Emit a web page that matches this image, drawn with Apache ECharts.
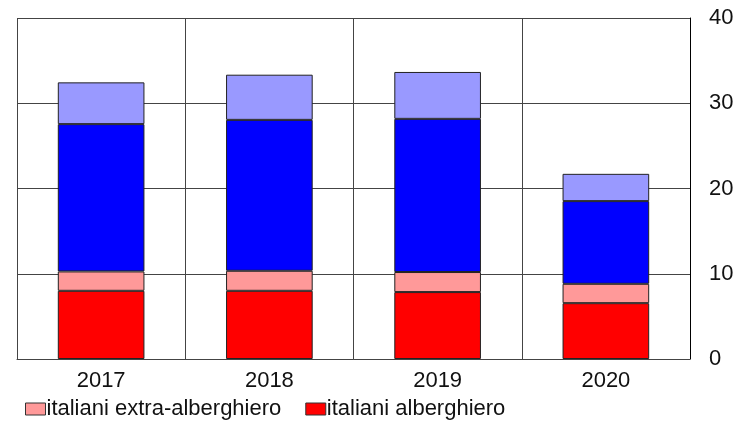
<!DOCTYPE html>
<html>
<head>
<meta charset="utf-8">
<script src="https://cdn.jsdelivr.net/npm/echarts@6/dist/echarts.min.js"></script>
<style>
  html, body { margin: 0; padding: 0; background: #fff; }
  #chart { width: 741px; height: 429px; }
</style>
</head>
<body>
<div id="chart"></div>
<script>
// data
var years = ['2017', '2018', '2019', '2020'];
var italianiAlb = [8.0, 8.0, 7.85, 6.55];
var italianiExtra = [2.27, 2.35, 2.35, 2.27];
var stranieriAlb = [17.28, 17.7, 17.97, 9.7];
var stranieriExtra = [4.9, 5.3, 5.5, 3.2];
var yTicks = [0, 10, 20, 30, 40];

var FONT = 'Liberation Sans, Arial, sans-serif';
var chart = echarts.init(document.getElementById('chart'));

function barSeries(name, data, color) {
    return {
        name: name,
        type: 'bar',
        stack: 'tot',
        data: data,
        barWidth: '51.5%',
        itemStyle: {
            color: color,
            borderColor: '#222',
            borderWidth: 1
        }
    };
}

chart.setOption({
    animation: false,
    grid: {left: 17, right: 51, top: 18, bottom: 70, containLabel: false},
    legend: {
        data: ['italiani extra-alberghiero', 'italiani alberghiero'],
        left: 20,
        top: 393,
        itemWidth: 20,
        itemHeight: 12,
        itemGap: 24,
        icon: 'rect',
        itemStyle: {borderColor: '#333', borderWidth: 1},
        textStyle: {fontFamily: FONT, fontSize: 22, color: '#111', padding: [0, 0, 0, -4]}
    },
    xAxis: {
        type: 'category',
        data: years,
        axisTick: {show: false},
        axisLine: {lineStyle: {color: '#444', width: 1}},
        axisLabel: {fontFamily: FONT, fontSize: 22, color: '#111', margin: 11},
        splitLine: {show: true, lineStyle: {color: '#444', width: 1}}
    },
    yAxis: {
        type: 'value',
        position: 'right',
        min: yTicks[0],
        max: yTicks[yTicks.length - 1],
        interval: 10,
        axisLine: {show: true, lineStyle: {color: '#000', width: 1}},
        axisTick: {show: false},
        axisLabel: {fontFamily: FONT, fontSize: 22, color: '#111', margin: 19},
        splitLine: {show: true, lineStyle: {color: '#444', width: 1}}
    },
    series: [
        barSeries('italiani alberghiero', italianiAlb, '#ff0000'),
        barSeries('italiani extra-alberghiero', italianiExtra, '#ff9999'),
        barSeries('stranieri alberghiero', stranieriAlb, '#0000ff'),
        barSeries('stranieri extra-alberghiero', stranieriExtra, '#9999ff')
    ]
});
</script>
</body>
</html>
